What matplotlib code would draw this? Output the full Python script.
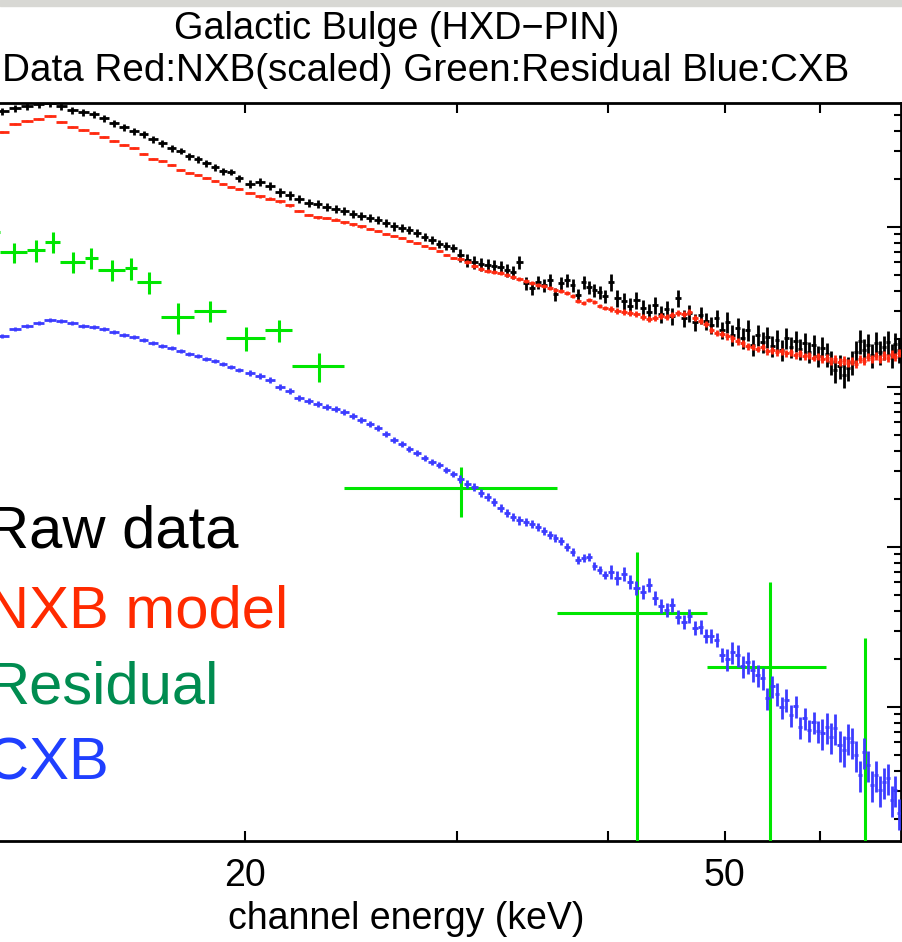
import numpy as np
import matplotlib
matplotlib.use("Agg")
import matplotlib.pyplot as plt
from matplotlib.patches import Rectangle
from matplotlib.ticker import LogLocator, NullLocator, NullFormatter

plt.rcParams["font.family"] = ["Liberation Sans", "DejaVu Sans"]

# HXD-PIN channel energies (keV), three grouping regimes with their half widths
ENERGY_A = [12.6, 12.9, 13.2, 13.5, 13.8, 14.1, 14.4, 14.7, 15.0, 15.3, 15.6, 15.9, 16.2,
            16.5, 16.8, 17.1, 17.4, 17.7, 18.0, 18.3, 18.6, 18.9, 19.2, 19.5, 19.8]
ENERGY_B = [20.2, 20.6, 21.0, 21.4, 21.8, 22.2, 22.6, 23.0, 23.4, 23.8, 24.2, 24.6, 25.0,
            25.4, 25.8, 26.2, 26.6, 27.0, 27.4, 27.8, 28.2, 28.6, 29.0, 29.4, 29.8, 30.2,
            30.6, 31.0, 31.4, 31.8, 32.2, 32.6, 33.0, 33.4, 33.8, 34.2, 34.6, 35.0, 35.4,
            35.8, 36.2, 36.6, 37.0, 37.4, 37.8, 38.2, 38.6, 39.0, 39.4, 39.8]
ENERGY_C = [40.25, 40.75, 41.25, 41.75, 42.25, 42.75, 43.25, 43.75, 44.25, 44.75, 45.25,
            45.75, 46.25, 46.75, 47.25, 47.75, 48.25, 48.75, 49.25, 49.75, 50.25, 50.75,
            51.25, 51.75, 52.25, 52.75, 53.25, 53.75, 54.25, 54.75, 55.25, 55.75, 56.25,
            56.75, 57.25, 57.75, 58.25, 58.75, 59.25, 59.75, 60.25, 60.75, 61.25, 61.75,
            62.25, 62.75, 63.25, 63.75, 64.25, 64.75, 65.25, 65.75, 66.25, 66.75, 67.25,
            67.75, 68.25, 68.75, 69.25, 69.75]
HALF_WIDTH = (0.15, 0.20, 0.25)

# counts/s/keV
RAW = [0.531, 0.554, 0.570, 0.587, 0.596, 0.570, 0.539, 0.523, 0.508, 0.480, 0.447, 0.422,
       0.398, 0.381, 0.355, 0.335, 0.312, 0.299, 0.278, 0.266, 0.251, 0.237, 0.224, 0.221,
       0.202,
       0.186, 0.191, 0.180, 0.165, 0.158, 0.150, 0.141, 0.139, 0.133, 0.130, 0.126, 0.121,
       0.117, 0.114, 0.111, 0.106, 0.101, 0.0986, 0.0958, 0.0917, 0.0866, 0.0829, 0.0783,
       0.0761, 0.0739, 0.0668, 0.0622, 0.0604, 0.0587, 0.0579, 0.0570, 0.0562, 0.0539,
       0.0523, 0.0604, 0.0447, 0.0416, 0.0453, 0.0434, 0.0466, 0.0381, 0.0447, 0.0466,
       0.0434, 0.0376, 0.0453, 0.0422, 0.0404, 0.0392, 0.0370,
       0.0453, 0.0360, 0.0345, 0.0321, 0.0350, 0.0312, 0.0294, 0.0325, 0.0286, 0.0307,
       0.0278, 0.0360, 0.0270, 0.0290, 0.0255, 0.0282, 0.0259, 0.0244, 0.0270, 0.0227,
       0.0255, 0.0211, 0.0234, 0.0202, 0.0227, 0.0183, 0.0211, 0.0191, 0.0205, 0.0180,
       0.0197, 0.0170, 0.0202, 0.0178, 0.0194, 0.0173, 0.0188, 0.0165, 0.0183, 0.0156,
       0.0175, 0.0161, 0.0143, 0.0128, 0.0135, 0.0119, 0.0131, 0.0143, 0.0165, 0.0194,
       0.0170, 0.0183, 0.0158, 0.0188, 0.0165, 0.0178, 0.0191, 0.0158, 0.0186, 0.0170]
NXB = [0.392, 0.440, 0.460, 0.473, 0.494, 0.453, 0.422, 0.404, 0.387, 0.365, 0.345, 0.325,
       0.312, 0.286, 0.266, 0.259, 0.244, 0.227, 0.218, 0.211, 0.202, 0.194, 0.186, 0.178,
       0.173,
       0.163, 0.156, 0.150, 0.145, 0.137, 0.126, 0.119, 0.115, 0.114, 0.111, 0.107, 0.104,
       0.101, 0.0972, 0.0944, 0.0904, 0.0879, 0.0854, 0.0818, 0.0794, 0.0761, 0.0739,
       0.0708, 0.0668, 0.0640, 0.0631, 0.0604, 0.0570, 0.0546, 0.0531, 0.0523, 0.0516,
       0.0501, 0.0487, 0.0473, 0.0460, 0.0447, 0.0434, 0.0428, 0.0416, 0.0404, 0.0398,
       0.0387, 0.0370, 0.0345, 0.0335, 0.0350, 0.0340, 0.0321, 0.0312,
       0.0307, 0.0299, 0.0294, 0.0290, 0.0286, 0.0274, 0.0266, 0.0270, 0.0278, 0.0274,
       0.0282, 0.0290, 0.0286, 0.0294, 0.0270, 0.0259, 0.0248, 0.0227, 0.0218, 0.0214,
       0.0208, 0.0202, 0.0194, 0.0188, 0.0180, 0.0178, 0.0173, 0.0178, 0.0168, 0.0170,
       0.0165, 0.0168, 0.0163, 0.0165, 0.0158, 0.0163, 0.0156, 0.0158, 0.0152, 0.0156,
       0.0150, 0.0152, 0.0145, 0.0150, 0.0143, 0.0147, 0.0141, 0.0145, 0.0139, 0.0150,
       0.0145, 0.0154, 0.0150, 0.0156, 0.0150, 0.0158, 0.0152, 0.0161, 0.0154, 0.0163]
CXB = [0.0208, 0.0230, 0.0241, 0.0251, 0.0262, 0.0259, 0.0251, 0.0241, 0.0237, 0.0230,
       0.0221, 0.0211, 0.0205, 0.0197, 0.0188, 0.0180, 0.0175, 0.0168, 0.0161, 0.0156,
       0.0150, 0.0145, 0.0139, 0.0133, 0.0128,
       0.0122, 0.0117, 0.0111, 0.0100, 0.00944, 0.00854, 0.00818, 0.00783, 0.00750,
       0.00729, 0.00698, 0.00659, 0.00622, 0.00587, 0.00554, 0.00508, 0.00466, 0.00440,
       0.00410, 0.00387, 0.00360, 0.00340, 0.00325, 0.00303, 0.00286, 0.00266, 0.00248,
       0.00237, 0.00218, 0.00205, 0.00191, 0.00175, 0.00163, 0.00154, 0.00147, 0.00143,
       0.00139, 0.00133, 0.00126, 0.00119, 0.00114, 0.00109, 0.00100, 0.000931, 0.000829,
       0.000854, 0.000866, 0.000761, 0.000718, 0.000668,
       0.000698, 0.000640, 0.000678, 0.000604, 0.000554, 0.000523, 0.000579, 0.000480,
       0.000428, 0.000404, 0.000434, 0.000365, 0.000340, 0.000370, 0.000312, 0.000316,
       0.000278, 0.000278, 0.000262, 0.000211, 0.000200, 0.000221, 0.000211, 0.000180,
       0.000191, 0.000170, 0.000158, 0.000152, 0.000114, 0.000135, 0.000121, 0.000100,
       0.000111, 0.0000891, 0.000101, 0.0000750, 0.0000854, 0.0000718, 0.0000806,
       0.0000708, 0.0000688, 0.0000750, 0.0000649, 0.0000739, 0.0000579, 0.0000539,
       0.0000640, 0.0000604, 0.0000501, 0.0000376, 0.0000523, 0.0000434, 0.0000325,
       0.0000376, 0.0000303, 0.0000340, 0.0000360, 0.0000262, 0.0000303, 0.0000218]

# fractional 1-sigma errors, by lower band edge (keV)
RAW_REL_ERR = [(12.0, 0.05), (20.0, 0.06), (30.0, 0.09), (40.0, 0.12), (50.0, 0.15), (60.0, 0.17)]
NXB_REL_ERR = [(12.0, 0.015), (20.0, 0.02), (30.0, 0.03), (40.0, 0.04), (50.0, 0.05), (60.0, 0.06)]
CXB_REL_ERR = [(12.0, 0.03), (20.0, 0.04), (30.0, 0.06), (40.0, 0.10), (50.0, 0.16), (60.0, 0.22)]

# residual, coarsely grouped
RES_E = [12.27, 12.87, 13.435, 13.865, 14.405, 14.935, 15.52, 16.105, 16.67, 17.6, 18.725,
         20.05, 21.35, 23.05, 30.25, 42.3, 54.5, 65.35]
RES_HW = [0.27, 0.33, 0.235, 0.195, 0.345, 0.185, 0.4, 0.185, 0.38, 0.55, 0.575, 0.75, 0.55,
          1.15, 6.05, 6.0, 6.2, 4.65]
RES = [0.0930, 0.0698, 0.0718, 0.0806, 0.0604, 0.0640, 0.0539, 0.0554, 0.0453, 0.0274,
       0.0299, 0.0202, 0.0227, 0.0135, 0.00234, 0.000387, 0.000178, -0.00005]
RES_ERR = [0.013, 0.010, 0.011, 0.012, 0.009, 0.0095, 0.008, 0.0085, 0.007, 0.006, 0.0045,
           0.0035, 0.0035, 0.0028, 0.0008, 0.00054, 0.00043, 0.00032]

LABELS = ["Raw data", "NXB model", "Residual", "CXB"]
LABEL_COLORS = ["black", "#ff2a00", "#008c50", "#1f3fff"]


def rel_err(energies, values, bands):
    out = []
    for e, v in zip(energies, values):
        frac = [f for lo, f in bands if e >= lo][-1]
        out.append(frac * v)
    return out


energy = ENERGY_A + ENERGY_B + ENERGY_C
hw = ([HALF_WIDTH[0]] * len(ENERGY_A) + [HALF_WIDTH[1]] * len(ENERGY_B)
      + [HALF_WIDTH[2]] * len(ENERGY_C))

W, H = 902, 942
fig = plt.figure(figsize=(W / 100, H / 100), dpi=100)
fig.patches.append(Rectangle((0, 1 - 6 / H), 1, 6 / H, transform=fig.transFigure,
                             color="#d8d8d4", zorder=0))

# axes run off the left edge of the picture (cropped screenshot)
ax = fig.add_axes([-118.7 / W, 101 / H, 1019.7 / W, 738 / H])
ax.set_xscale("log")
ax.set_yscale("log", nonpositive="clip")

ax.errorbar(energy, RAW, xerr=hw, yerr=rel_err(energy, RAW, RAW_REL_ERR), fmt="none",
            ecolor="black", elinewidth=2.0, capsize=0, zorder=2)
ax.errorbar(energy, NXB, xerr=hw, yerr=rel_err(energy, NXB, NXB_REL_ERR), fmt="none",
            ecolor="#ff2a10", elinewidth=2.0, capsize=0, zorder=3)
ax.errorbar(RES_E, RES, xerr=RES_HW, yerr=RES_ERR, fmt="none",
            ecolor="#00e600", elinewidth=2.2, capsize=0, zorder=4)
ax.errorbar(energy, CXB, xerr=hw, yerr=rel_err(energy, CXB, CXB_REL_ERR), fmt="none",
            ecolor="#3c3cff", elinewidth=2.0, capsize=0, zorder=5)

ax.set_xlim(10, 70)
ax.set_ylim(1.4537e-5, 0.5957)

ax.set_xticks([20, 30, 40, 50, 60])
ax.set_xticklabels(["20", "", "", "50", ""])
ax.xaxis.set_minor_locator(NullLocator())
ax.yaxis.set_major_locator(LogLocator(base=10))
ax.yaxis.set_minor_locator(LogLocator(base=10, subs=(2, 3, 4, 5, 6, 7, 8, 9)))
ax.yaxis.set_minor_formatter(NullFormatter())
ax.tick_params(axis="both", which="both", direction="in", top=True, right=True,
               width=1.5, colors="black")
ax.tick_params(axis="x", length=7, pad=12, labelsize=27)
ax.tick_params(axis="y", which="major", length=10, labelleft=False)
ax.tick_params(axis="y", which="minor", length=5)
for s in ax.spines.values():
    s.set_linewidth(2.0)

fig.text(397 / W, 1 - 39 / H, "Galactic Bulge (HXD\u2212PIN)", ha="center",
         va="baseline", fontsize=27.3)
fig.text(849 / W, 1 - 81 / H, "Black:Data Red:NXB(scaled) Green:Residual Blue:CXB",
         ha="right", va="baseline", fontsize=27.8)
fig.text(406 / W, 1 - 929 / H, "channel energy (keV)", ha="center", va="baseline",
         fontsize=27)

for label, color, base in zip(LABELS, LABEL_COLORS, [548, 627, 703, 779]):
    fig.text(-14 / W, 1 - base / H, label, color=color, ha="left", va="baseline",
             fontsize=43)

fig.savefig("out.png", dpi=100)
